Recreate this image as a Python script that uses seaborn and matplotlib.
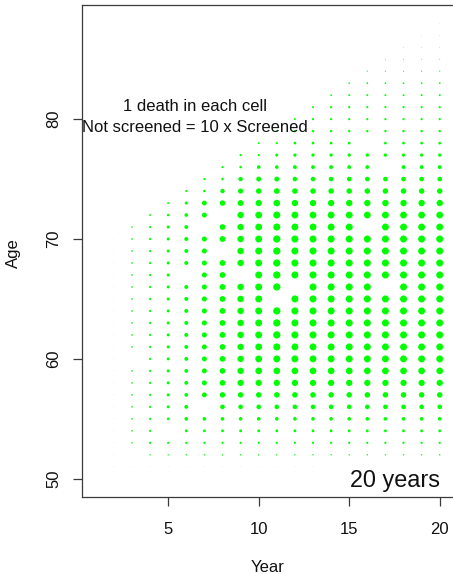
import matplotlib
matplotlib.use("Agg")
import matplotlib.pyplot as plt
import pandas as pd
import seaborn as sns

plt.rcParams['font.family'] = ['Liberation Sans', 'DejaVu Sans']

# ---------------- data ----------------
years = [2, 3, 4, 5, 6, 7, 8, 9, 10, 11, 12, 13, 14, 15, 16, 17, 18, 19, 20]
ages = [51, 52, 53, 54, 55, 56, 57, 58, 59, 60, 61, 62, 63, 64, 65, 66, 67, 68,
        69, 70, 71, 72, 73, 74, 75, 76, 77, 78, 79, 80, 81, 82, 83, 84, 85, 86, 87, 88]

# dot diameter (px) per cell; one row per age, one entry per year (0 = no dot)
dot_diam = [
    [0.4, 0.4, 0.4, 0.4, 0.4, 0.4, 0.4, 0.4, 0.4, 0.4, 0.4, 0.4, 0, 0, 0, 0, 0, 0, 0],                 # 51
    [0.4, 0, 1.3, 1.3, 1.3, 1.3, 1.3, 1.3, 1.3, 1.3, 1.3, 1.3, 1.3, 1.3, 1.3, 1.3, 1.3, 1.3, 1.3],     # 52
    [0.4, 1.4, 2.0, 2.0, 2.0, 2.0, 2.0, 2.0, 2.0, 2.0, 2.0, 2.0, 2.0, 2.0, 2.0, 2.0, 2.0, 2.0, 2.0],   # 53
    [0.4, 1.5, 2.0, 0, 2.6, 2.6, 2.6, 2.6, 2.6, 2.6, 2.6, 2.6, 2.6, 2.6, 2.6, 2.6, 2.6, 2.6, 2.6],     # 54
    [0.4, 1.5, 2.0, 2.4, 3.3, 3.3, 3.3, 3.3, 3.3, 3.3, 3.3, 3.3, 3.3, 3.3, 3.3, 3.3, 3.3, 3.3, 3.3],   # 55
    [0.4, 1.5, 2.0, 2.7, 3.5, 0, 4.2, 4.2, 4.2, 4.2, 4.2, 4.2, 4.2, 4.2, 4.2, 4.2, 4.2, 4.2, 4.2],     # 56
    [0.4, 1.5, 2.0, 2.7, 3.4, 4.4, 5.0, 5.0, 5.0, 5.0, 5.0, 5.0, 5.0, 5.0, 5.0, 5.0, 5.0, 5.0, 5.0],   # 57
    [0.4, 1.5, 2.0, 2.7, 3.5, 4.5, 5.2, 5.7, 5.7, 5.7, 5.7, 5.7, 5.7, 5.7, 5.7, 5.7, 5.7, 5.7, 5.7],   # 58
    [0.4, 1.5, 2.0, 2.7, 3.5, 4.5, 5.2, 5.8, 6.1, 6.1, 6.1, 6.1, 6.1, 6.1, 6.1, 6.1, 6.1, 6.1, 6.1],   # 59
    [0.4, 0, 2.0, 2.7, 3.5, 4.5, 5.2, 5.8, 6.2, 6.3, 6.3, 6.3, 6.3, 6.3, 6.3, 6.3, 6.3, 6.3, 6.3],     # 60
    [0.4, 1.5, 2.0, 2.7, 3.5, 4.5, 5.2, 5.8, 6.2, 6.4, 6.3, 6.3, 6.3, 6.3, 6.3, 6.3, 6.3, 6.3, 6.3],   # 61
    [0.4, 1.5, 2.0, 2.7, 3.6, 4.6, 5.3, 5.9, 6.3, 6.6, 6.4, 6.4, 6.4, 6.4, 6.4, 6.4, 6.4, 6.4, 6.4],   # 62
    [0.4, 1.5, 2.0, 2.7, 3.6, 4.6, 5.3, 5.9, 6.3, 6.6, 6.4, 6.4, 6.4, 6.4, 6.4, 6.4, 6.4, 6.4, 6.4],   # 63
    [0.4, 1.5, 2.0, 2.7, 3.6, 4.6, 5.3, 5.9, 6.3, 6.6, 6.4, 6.4, 6.4, 6.4, 6.4, 6.4, 6.4, 6.4, 6.4],   # 64
    [0.4, 1.5, 2.0, 2.7, 3.6, 4.6, 5.3, 5.9, 6.3, 0, 6.4, 6.4, 6.4, 6.4, 6.4, 6.4, 6.4, 6.4, 6.4],     # 65
    [0.4, 1.5, 2.0, 2.7, 3.6, 4.6, 5.3, 5.9, 6.3, 6.6, 0, 6.4, 6.4, 6.4, 6.4, 0, 6.4, 6.4, 6.4],       # 66
    [0.4, 1.5, 2.0, 2.7, 0, 4.6, 5.3, 0, 6.3, 6.6, 6.4, 6.4, 6.4, 6.4, 6.4, 6.4, 6.4, 6.4, 6.4],       # 67
    [0.4, 1.5, 2.0, 2.7, 3.6, 4.6, 5.3, 5.9, 6.3, 6.6, 6.4, 6.4, 6.4, 6.4, 6.4, 6.4, 6.4, 6.4, 6.4],   # 68
    [0.4, 1.5, 2.0, 2.7, 3.6, 4.6, 0, 5.9, 6.3, 6.6, 6.4, 6.4, 6.4, 6.4, 6.4, 6.4, 6.4, 6.4, 6.4],     # 69
    [0.35, 1.5, 2.0, 2.7, 3.6, 4.6, 5.3, 5.9, 6.3, 6.6, 6.4, 6.4, 6.4, 6.4, 6.4, 6.4, 6.4, 6.4, 6.4],  # 70
    [0, 1.4, 2.0, 2.7, 3.5, 0, 5.2, 5.8, 6.2, 6.4, 6.3, 6.3, 6.3, 6.3, 0, 6.3, 6.3, 6.3, 6.3],         # 71
    [0, 0, 1.7, 2.3, 3.3, 4.5, 0, 5.8, 6.2, 6.4, 6.2, 6.2, 6.2, 6.2, 6.2, 6.2, 6.2, 6.2, 6.2],         # 72
    [0, 0, 0, 1.8, 2.8, 4.4, 5.0, 5.4, 5.7, 6.0, 5.8, 5.8, 5.8, 5.8, 5.8, 5.8, 5.8, 5.8, 5.8],         # 73
    [0, 0, 0, 0, 2.0, 2.3, 4.0, 4.7, 5.0, 5.2, 5.0, 5.0, 5.0, 5.0, 5.0, 5.0, 5.0, 5.0, 5.0],           # 74
    [0, 0, 0, 0, 0, 2.0, 2.3, 4.0, 4.5, 4.5, 4.2, 4.2, 4.2, 4.2, 4.2, 4.2, 4.2, 4.2, 4.2],             # 75
    [0, 0, 0, 0, 0, 0, 2.0, 2.3, 3.3, 3.3, 3.5, 3.5, 3.5, 3.5, 3.5, 0, 3.5, 3.5, 3.5],                 # 76
    [0, 0, 0, 0, 0, 0, 0, 2.0, 2.0, 2.7, 3.0, 3.0, 3.0, 3.0, 3.0, 3.0, 3.0, 3.0, 3.0],                 # 77
    [0, 0, 0, 0, 0, 0, 0, 0, 1.7, 2.0, 2.5, 2.5, 2.5, 2.5, 0, 2.5, 2.5, 2.5, 2.5],                     # 78
    [0, 0, 0, 0, 0, 0, 0, 0, 0, 1.5, 2.2, 2.2, 2.2, 2.2, 2.2, 2.2, 2.2, 2.2, 2.2],                     # 79
    [0, 0, 0, 0, 0, 0, 0, 0, 0, 0, 1.8, 2.0, 2.0, 2.0, 2.0, 2.0, 2.0, 2.0, 2.0],                       # 80
    [0, 0, 0, 0, 0, 0, 0, 0, 0, 0, 0, 1.8, 2.0, 2.0, 2.0, 2.0, 2.0, 2.0, 2.0],                         # 81
    [0, 0, 0, 0, 0, 0, 0, 0, 0, 0, 0, 0, 1.6, 1.8, 1.8, 1.8, 1.8, 1.8, 1.8],                           # 82
    [0, 0, 0, 0, 0, 0, 0, 0, 0, 0, 0, 0, 0, 1.5, 1.6, 1.6, 1.6, 1.6, 1.6],                             # 83
    [0, 0, 0, 0, 0, 0, 0, 0, 0, 0, 0, 0, 0, 0, 1.1, 1.1, 1.1, 1.1, 1.1],                               # 84
    [0, 0, 0, 0, 0, 0, 0, 0, 0, 0, 0, 0, 0, 0, 0, 0.8, 0.8, 0.8, 0.8],                                 # 85
    [0, 0, 0, 0, 0, 0, 0, 0, 0, 0, 0, 0, 0, 0, 0, 0, 0.6, 0.6, 0.6],                                   # 86
    [0, 0, 0, 0, 0, 0, 0, 0, 0, 0, 0, 0, 0, 0, 0, 0, 0, 0.5, 0.5],                                     # 87
    [0, 0, 0, 0, 0, 0, 0, 0, 0, 0, 0, 0, 0, 0, 0, 0, 0, 0, 0.4],                                       # 88
]

x_ticks = [5, 10, 15, 20]
y_ticks = [50, 60, 70, 80]
note_lines = ["1 death in each cell", "Not screened = 10 x Screened"]
corner_label = "20 years"

# ---------------- build table ----------------
PX_TO_PT = 0.72 * 1.1   # marker diameter scale (antialiasing compensation)
rows = []
for age, vals in zip(ages, dot_diam):
    for yr, d in zip(years, vals):
        if d > 0:
            rows.append({"year": yr, "age": age, "area": (d * PX_TO_PT) ** 2})
df = pd.DataFrame(rows)

W, H, DPI = 453, 574, 100
fig = plt.figure(figsize=(W / DPI, H / DPI), dpi=DPI)
ax = fig.add_axes([82 / W, 77 / H, 371.5 / W, 492 / H])

amin, amax = df["area"].min(), df["area"].max()
sns.scatterplot(data=df, x="year", y="age", size="area", sizes=(amin, amax),
                size_norm=(amin, amax), color="#00ff00", linewidth=0,
                legend=False, ax=ax)

ax.set_xlim(0.24, 20.76)
ax.set_ylim(48.48, 89.52)
ax.set_xticks(x_ticks)
ax.set_yticks(y_ticks)
ax.set_xlabel("")
ax.set_ylabel("")
for lab in ax.get_yticklabels():
    lab.set_rotation(90)
    lab.set_va("center")
    lab.set_ha("center")

for s in ["left", "top", "bottom"]:
    ax.spines[s].set_color("#3a3a3a")
    ax.spines[s].set_linewidth(0.9)
ax.spines["right"].set_visible(False)
ax.tick_params(axis="both", length=6.5, width=0.9, color="#3a3a3a",
               labelsize=12, labelcolor="#111111")
ax.tick_params(axis="x", pad=11.5)
ax.tick_params(axis="y", pad=14)

ax.text(6.5, 80.7, note_lines[0], ha="center", va="baseline", fontsize=12, color="#111111")
ax.text(6.5, 78.95, note_lines[1], ha="center", va="baseline", fontsize=12, color="#111111")
ax.text(20.03, 49.28, corner_label, ha="right", va="baseline", fontsize=16.8, color="#111111")

fig.text(268 / W, 1 - 567 / H, "Year", ha="center", va="center", fontsize=12, color="#111111")
fig.text(13 / W, 1 - 253 / H, "Age", ha="center", va="center", rotation=90, fontsize=12, color="#111111")

fig.savefig("out.png", dpi=DPI)
